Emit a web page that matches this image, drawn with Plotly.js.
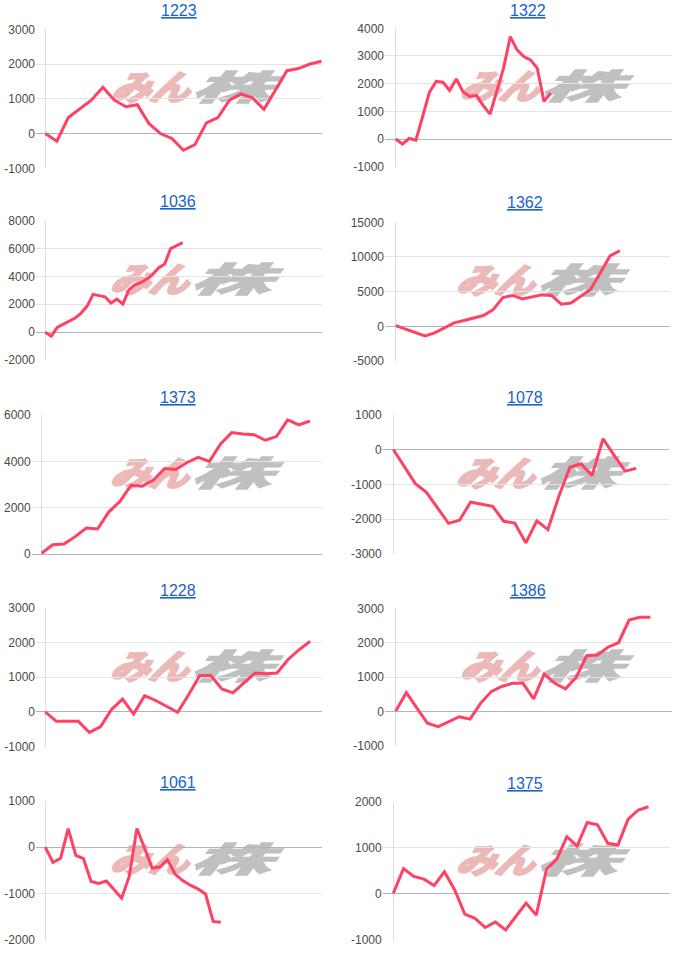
<!DOCTYPE html>
<html>
<head>
<meta charset="utf-8">
<script src="https://cdn.plot.ly/plotly-3.0.1.min.js"></script>
<style>
html,body{margin:0;padding:0;background:#fff;}
#wrap{position:relative;width:700px;height:965px;overflow:hidden;}
#chart{position:absolute;left:0;top:0;width:700px;height:965px;z-index:1;}
.wm{position:absolute;z-index:0;white-space:nowrap;font-family:"Noto Sans CJK JP",sans-serif;font-weight:700;font-style:italic;font-size:34px;line-height:34px;}
.wm span{display:inline-block;transform-origin:left center;}
.wm .p{color:#ecb9b9;-webkit-text-stroke:2.5px #ecb9b9;transform:skewX(-12deg) scaleX(1.15);}
.wm .g{color:#c0c0c0;-webkit-text-stroke:1.5px #c0c0c0;transform:skewX(-12deg) scaleX(2.35);margin-left:12px;}
</style>
</head>
<body>
<div id="wrap"><div id="chart"></div></div>
<script>
// ---- data ----
const titles = ['1223', '1322', '1036', '1362', '1373', '1078', '1228', '1386', '1061', '1375'];

const s1223 = [0, -220, 460, 720, 960, 1330, 960, 770, 830, 290, 0, -140, -480, -320, 310, 460, 960, 1140, 1030, 700, 1250, 1810, 1870, 2000, 2080];
const s1322 = [0, -180, 20, -40, 820, 1690, 2080, 2050, 1760, 2170, 1700, 1540, 1580, 1200, 900, 1750, 2560, 3700, 3220, 2980, 2860, 2560, 1360, 1660];
const s1036 = [0, -290, 340, 550, 770, 1010, 1370, 1870, 2710, 2610, 2540, 2090, 2370, 2010, 3040, 3400, 3550, 3810, 4150, 4630, 4890, 6000, 6240, 6430];
const s1362 = [100, -400, -900, -1400, -950, -250, 500, 850, 1150, 1550, 2400, 4150, 4450, 3950, 4250, 4550, 4450, 3200, 3350, 4350, 5300, 7700, 10150, 10900];
const s1373 = [30, 400, 430, 750, 1120, 1080, 1810, 2270, 2970, 2930, 3190, 3690, 3650, 3950, 4170, 4000, 4750, 5240, 5180, 5150, 4910, 5070, 5790, 5570, 5740];
const s1078 = [0, -490, -980, -1230, -1680, -2120, -2030, -1510, -1570, -1630, -2060, -2110, -2680, -2050, -2300, -1340, -510, -410, -750, 310, -170, -620, -540];
const s1228 = [0, -270, -270, -270, -590, -430, 70, 370, -60, 470, 330, 160, -10, 500, 1050, 1050, 660, 550, 830, 1120, 1100, 1120, 1510, 1790, 2030];
const s1386 = [20, 550, 100, -340, -440, -290, -150, -220, 240, 580, 730, 820, 820, 370, 1090, 820, 660, 990, 1620, 1640, 1870, 2000, 2660, 2740, 2740];
const s1061 = [0, -330, -240, 400, -180, -250, -740, -780, -730, -920, -1100, -630, 400, -20, -450, -430, -270, -580, -720, -820, -900, -1010, -1600, -1620];
const s1375 = [10, 550, 380, 320, 180, 480, 90, -440, -530, -730, -610, -780, -490, -200, -460, 530, 750, 1240, 1040, 1550, 1500, 1100, 1060, 1620, 1820, 1890];

const series = [s1223, s1322, s1036, s1362, s1373, s1078, s1228, s1386, s1061, s1375];

// y axis scales (tick ranges and steps)
const yMin = [-1000, -1000, -2000, -5000, 0, -3000, -1000, -1000, -2000, -1000];
const yMax = [3000, 4000, 8000, 15000, 6000, 1000, 3000, 3000, 1000, 2000];
const yStep = [1000, 1000, 2000, 5000, 2000, 1000, 1000, 1000, 1000, 1000];

// ---- layout geometry (pixels) ----
const W = 700, H = 965;
// [left, right, top, bottom, xmin, xmax, titleX, titleY, wmX, wmY]
const geo = [
  [36, 322.3, 29.3, 168.3, -0.81, 24.07, 178.5, 11, 113, 69],
  [385, 672.3, 28.3, 166.7, -1.59, 41.04, 528, 11, 462, 68],
  [36, 322.3, 220.7, 360, -1.56, 46.4, 178, 202, 112, 261],
  [385, 670, 222.3, 361, -1.10, 28.16, 525, 202.5, 458, 262],
  [31.7, 322.3, 415, 554, -0.89, 25.1, 178, 397, 112, 455],
  [382.7, 669.3, 414.7, 554, -0.96, 25.0, 525, 397, 458, 455],
  [36, 322.3, 607.7, 746.7, -0.84, 25.1, 178, 590, 112, 648],
  [385, 672.3, 608.3, 746, -1.01, 26.07, 528, 590, 462, 648],
  [36, 322.3, 800.7, 940, -1.22, 36.3, 178, 782.5, 112, 841],
  [382.7, 670, 801.7, 940, -1.04, 27.1, 525, 783, 458, 842]
];

const tickFont = {family: 'Arial, "Liberation Sans", sans-serif', size: 12, color: '#4a4a4a'};
const data = [];
const layout = {
  width: W, height: H, autosize: false,
  margin: {l: 0, r: 0, t: 0, b: 0, pad: 0},
  paper_bgcolor: 'rgba(0,0,0,0)', plot_bgcolor: 'rgba(0,0,0,0)',
  showlegend: false,
  annotations: []
};

series.forEach((vals, k) => {
  const g = geo[k];
  const sx = k === 0 ? '' : String(k + 1);
  const tv = [];
  for (let v = yMin[k]; v <= yMax[k]; v += yStep[k]) tv.push(v);
  data.push({
    type: 'scatter', mode: 'lines',
    x: vals.map((_, i) => i), y: vals,
    xaxis: 'x' + sx, yaxis: 'y' + sx,
    line: {color: '#ff4163', width: 3},
    hoverinfo: 'skip'
  });
  layout['xaxis' + sx] = {
    domain: [g[0] / W, g[1] / W],
    range: [g[4], g[5]],
    anchor: 'y' + sx,
    showgrid: false, showticklabels: false, ticks: '',
    zeroline: true, zerolinecolor: '#dcdcdc', zerolinewidth: 1,
    showline: false, fixedrange: true
  };
  layout['yaxis' + sx] = {
    domain: [1 - g[3] / H, 1 - g[2] / H],
    range: [yMin[k], yMax[k]],
    tickmode: 'array', tickvals: tv, ticktext: tv.map(v => String(v)),
    anchor: 'x' + sx,
    showgrid: true, gridcolor: '#e4e4e4', gridwidth: 1,
    zeroline: true, zerolinecolor: '#b4b4b4', zerolinewidth: 1,
    showline: false, ticks: '', tickfont: tickFont,
    fixedrange: true
  };
  layout.annotations.push({
    xref: 'paper', yref: 'paper',
    x: g[6] / W, y: 1 - g[7] / H,
    xanchor: 'center', yanchor: 'middle',
    text: '<u>' + titles[k] + '</u>',
    showarrow: false,
    font: {family: 'Arial, "Liberation Sans", sans-serif', size: 16, color: '#1a62cc'}
  });
  // watermark logo behind the chart
  const wm = document.createElement('div');
  wm.className = 'wm';
  wm.style.left = g[8] + 'px';
  wm.style.top = g[9] + 'px';
  wm.innerHTML = '<span class="p">みん</span><span class="g">株</span>';
  document.getElementById('wrap').appendChild(wm);
});

Plotly.newPlot('chart', data, layout, {staticPlot: true, displayModeBar: false});
</script>
</body>
</html>
